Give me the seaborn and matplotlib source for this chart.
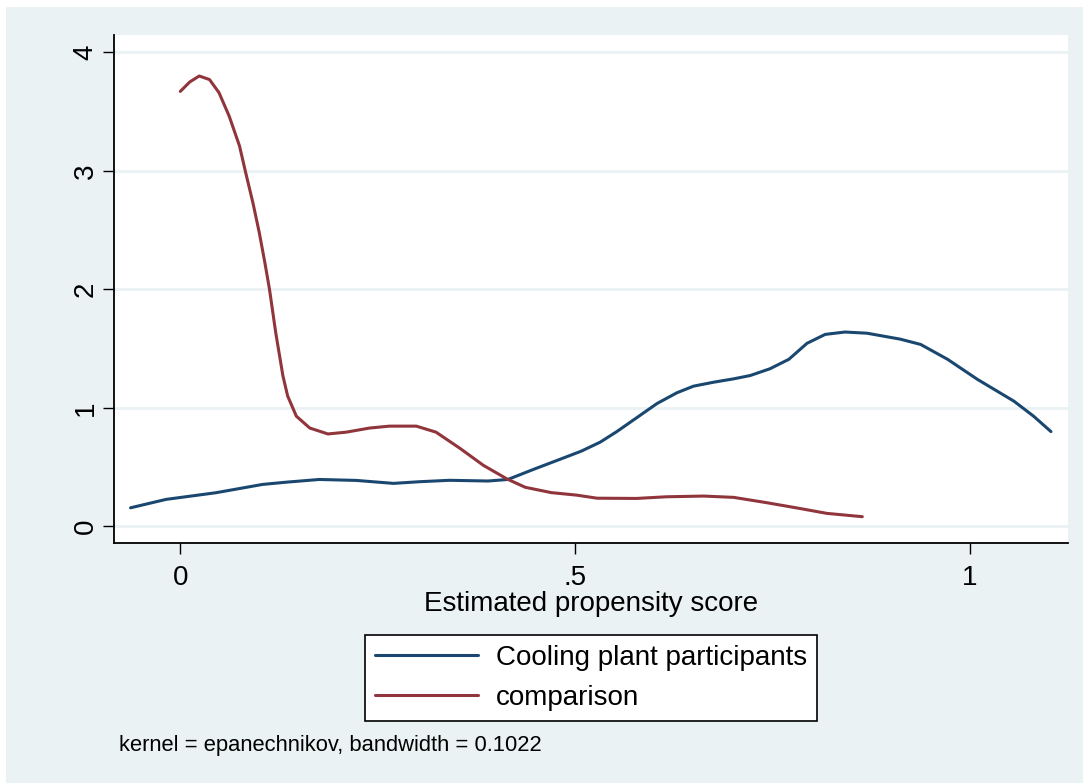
import matplotlib
matplotlib.use("Agg")
import matplotlib.pyplot as plt
import seaborn as sns
import pandas as pd
from matplotlib.patches import Rectangle
from matplotlib.lines import Line2D

# ---- data ----
treated_x = [-0.063, -0.018, 0.045, 0.104, 0.134, 0.176, 0.223, 0.270, 0.303, 0.341,
             0.390, 0.415, 0.447, 0.477, 0.508, 0.532, 0.553, 0.578, 0.604, 0.629,
             0.650, 0.676, 0.701, 0.722, 0.747, 0.771, 0.794, 0.817, 0.842, 0.870,
             0.912, 0.938, 0.972, 1.010, 1.056, 1.081, 1.103]
treated_y = [0.157, 0.228, 0.284, 0.354, 0.373, 0.396, 0.388, 0.363, 0.377, 0.389,
             0.383, 0.396, 0.480, 0.556, 0.635, 0.711, 0.800, 0.916, 1.037, 1.127,
             1.183, 1.217, 1.245, 1.273, 1.330, 1.410, 1.545, 1.620, 1.640, 1.630,
             1.580, 1.535, 1.410, 1.240, 1.057, 0.930, 0.800]

comp_x = [0.000, 0.012, 0.024, 0.037, 0.049, 0.062, 0.075, 0.083, 0.092, 0.100,
          0.107, 0.113, 0.121, 0.130, 0.136, 0.147, 0.164, 0.187, 0.210, 0.240,
          0.265, 0.299, 0.324, 0.354, 0.384, 0.414, 0.437, 0.470, 0.502, 0.528,
          0.578, 0.616, 0.663, 0.701, 0.743, 0.786, 0.819, 0.864]
comp_y = [3.67, 3.75, 3.80, 3.77, 3.66, 3.46, 3.21, 2.98, 2.73, 2.48,
          2.23, 2.00, 1.63, 1.27, 1.10, 0.93, 0.83, 0.78, 0.795, 0.83,
          0.846, 0.846, 0.795, 0.66, 0.515, 0.40, 0.33, 0.285, 0.264, 0.238,
          0.236, 0.25, 0.256, 0.245, 0.20, 0.15, 0.11, 0.082]

series_names = ["Cooling plant participants", "comparison"]
x_ticks = [0, 0.5, 1]
x_tick_labels = ["0", ".5", "1"]
y_ticks = [0, 1, 2, 3, 4]
y_tick_labels = ["0", "1", "2", "3", "4"]
x_label = "Estimated propensity score"
note_text = "kernel = epanechnikov, bandwidth = 0.1022"

df = pd.concat([
    pd.DataFrame({"x": treated_x, "y": treated_y, "group": series_names[0]}),
    pd.DataFrame({"x": comp_x, "y": comp_y, "group": series_names[1]}),
], ignore_index=True)

navy = "#1A476F"
maroon = "#90353B"
bg = "#EAF2F3"

sns.set_theme(style="white")
plt.rcParams["font.family"] = ["Liberation Sans", "DejaVu Sans"]
plt.rcParams["text.color"] = "black"

W, H = 1083, 783
fig = plt.figure(figsize=(W / 100, H / 100), dpi=100, facecolor="white")
fig.patches.append(Rectangle((6 / W, 0), 1 - 6 / W, 1 - 7 / H, transform=fig.transFigure,
                             facecolor=bg, edgecolor="none", zorder=-10))

ax = fig.add_axes([114 / W, 1 - 543 / H, (1068 - 114) / W, (543 - 35) / H])
ax.set_facecolor("white")

sns.lineplot(data=df, x="x", y="y", hue="group", palette=[navy, maroon],
             linewidth=2.2, ax=ax, legend=False)

ax.set_xlim(-0.084, 1.1246)
ax.set_ylim(-0.14, 4.146)

ax.set_xticks(x_ticks)
ax.set_xticklabels(x_tick_labels)
ax.set_yticks(y_ticks)
ax.set_yticklabels(y_tick_labels, rotation=90, va="center")

ax.tick_params(axis="both", which="major", direction="out", length=8, width=1.0,
               color="black", labelsize=20, labelcolor="black")
ax.tick_params(axis="x", pad=8)
ax.tick_params(axis="y", pad=3)
ax.tick_params(left=True, bottom=True)

for s in ["top", "right"]:
    ax.spines[s].set_visible(False)
for s in ["left", "bottom"]:
    ax.spines[s].set_visible(True)
    ax.spines[s].set_color("black")
    ax.spines[s].set_linewidth(1.3)

ax.yaxis.grid(True, color=bg, linewidth=2.0)
ax.xaxis.grid(False)
ax.set_axisbelow(True)

ax.set_xlabel(x_label, fontsize=20, color="black", labelpad=0)
ax.set_ylabel("")

handles = [Line2D([0], [0], color=navy, lw=2.2), Line2D([0], [0], color=maroon, lw=2.2)]
leg = fig.legend(handles, series_names, loc="center",
                 bbox_to_anchor=(591 / W, 1 - 678 / H), ncol=1, fontsize=20,
                 frameon=True, fancybox=False, handlelength=3.7, handletextpad=0.65,
                 borderpad=0.35, labelspacing=0.5, borderaxespad=0)
leg.get_frame().set_edgecolor("black")
leg.get_frame().set_linewidth(1.2)
leg.get_frame().set_facecolor("white")
leg.get_frame().set_alpha(1)
for t in leg.get_texts():
    t.set_color("black")

fig.text(119 / W, 1 - 746 / H, note_text, fontsize=15.8, ha="left", va="center", color="black")

fig.savefig("out.png", dpi=100, facecolor="white")
